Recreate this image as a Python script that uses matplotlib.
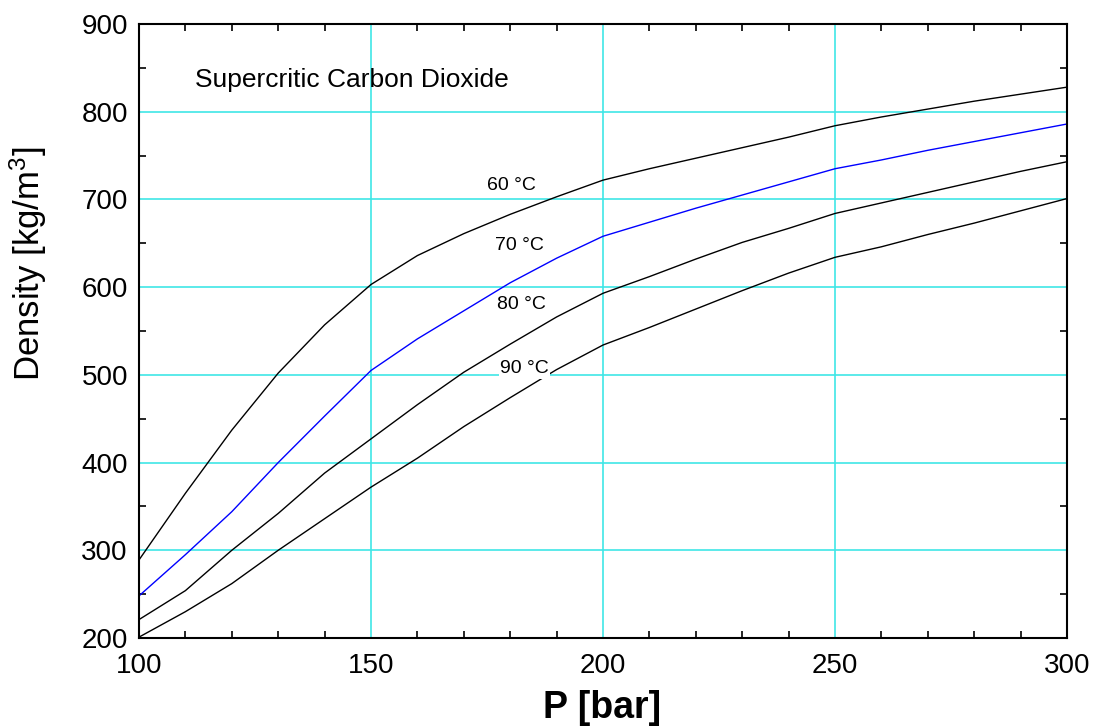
import matplotlib
matplotlib.use("Agg")
import matplotlib.pyplot as plt
from matplotlib.ticker import MultipleLocator

plt.rcParams['font.family'] = ['Liberation Sans', 'DejaVu Sans']
plt.rcParams['mathtext.fontset'] = 'custom'
plt.rcParams['mathtext.rm'] = 'Liberation Sans'
plt.rcParams['mathtext.it'] = 'Liberation Sans'

# pressure [bar]
pressure = [100, 110, 120, 130, 140, 150, 160, 170, 180, 190, 200,
            210, 220, 230, 240, 250, 260, 270, 280, 290, 300]

# CO2 density [kg/m3] at each temperature
rho_60 = [289, 365, 437, 502, 557, 603, 636, 661, 683, 703, 722,
          735, 747, 759, 771, 784, 794, 803, 812, 820, 828]
rho_70 = [248, 295, 344, 400, 453, 505, 541, 573, 605, 633, 658,
          674, 690, 705, 720, 735, 745, 756, 766, 776, 786]
rho_80 = [221, 254, 300, 342, 388, 427, 466, 503, 535, 566, 593,
          612, 632, 651, 667, 684, 696, 708, 720, 732, 743]
rho_90 = [201, 230, 262, 300, 336, 372, 405, 441, 474, 506, 534,
          554, 575, 596, 616, 634, 646, 660, 673, 687, 701]

curve_labels = ["60 °C", "70 °C", "80 °C", "90 °C"]
label_pos = [(180.2, 716), (182.0, 647), (182.4, 580), (183.1, 507)]

fig = plt.figure(figsize=(10.93, 7.27), dpi=100)
ax = fig.add_axes([139 / 1093, 1 - 638 / 727, 928 / 1093, 614 / 727])

ax.plot(pressure, rho_60, color='black', lw=1.0, zorder=3)
ax.plot(pressure, rho_70, color='#0000ff', lw=1.0, zorder=3)
ax.plot(pressure, rho_80, color='black', lw=1.0, zorder=3)
ax.plot(pressure, rho_90, color='black', lw=1.0, zorder=3)

# labels sit on a white box so they cut through lines and grid
for txt, (px, py) in zip(curve_labels, label_pos):
    ax.text(px, py, txt, fontsize=14, ha='center', va='center', zorder=5,
            bbox=dict(facecolor='white', edgecolor='none', pad=1.0))

ax.text(112.1, 836.6, "Supercritic Carbon Dioxide", fontsize=19,
        ha='left', va='center')

ax.set_xlim(100, 300)
ax.set_ylim(200, 900)
ax.xaxis.set_major_locator(MultipleLocator(50))
ax.xaxis.set_minor_locator(MultipleLocator(10))
ax.yaxis.set_major_locator(MultipleLocator(100))
ax.yaxis.set_minor_locator(MultipleLocator(50))

ax.grid(True, which='major', color='#3fe6e6', lw=1.2, zorder=1)
ax.set_axisbelow(True)

ax.tick_params(which='major', length=0, labelsize=20)
ax.tick_params(axis='x', which='major', pad=11)
ax.tick_params(axis='y', which='major', pad=8)
ax.tick_params(which='minor', direction='in', length=5, width=1.2,
               top=True, right=True)

for sp in ax.spines.values():
    sp.set_linewidth(1.5)
    sp.set_zorder(4)

fig.text(602 / 1093, 1 - 718 / 727, "P [bar]", fontsize=27,
         fontweight='bold', ha='center', va='baseline')
fig.text(28.5 / 1093, 1 - 263.5 / 727, "Density [kg/m$^3$]", fontsize=25,
         rotation=90, ha='center', va='center')

fig.savefig("out.png", dpi=100)
